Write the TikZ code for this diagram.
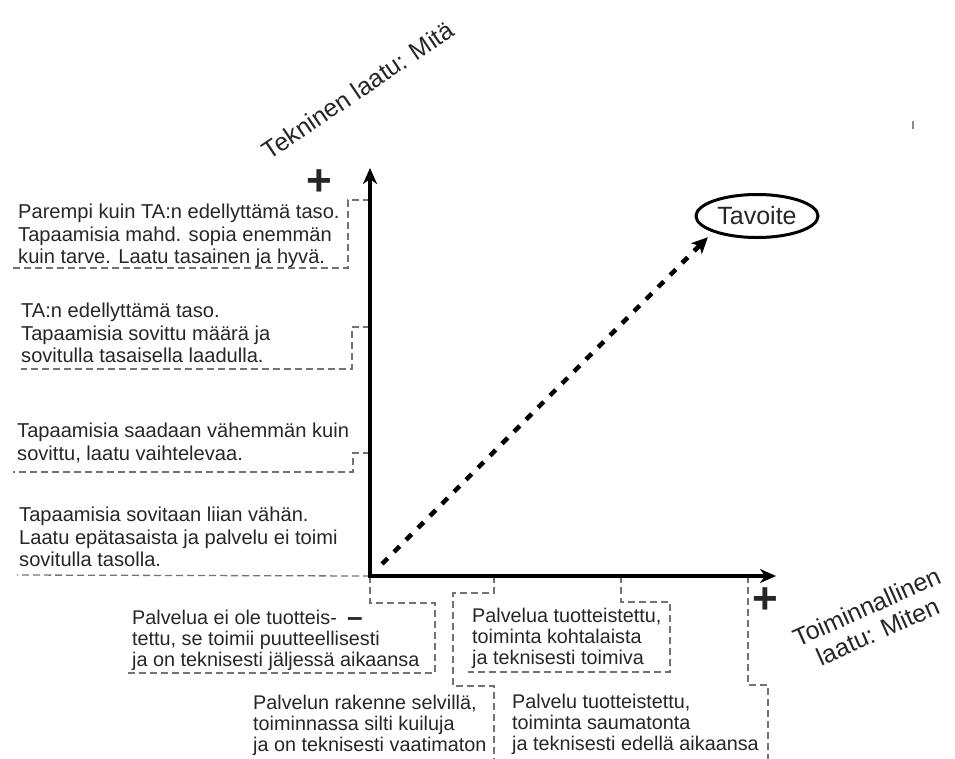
\documentclass[tikz,border=0pt]{standalone}
\usepackage{fontspec}
\setmainfont{Liberation Sans}
\usetikzlibrary{arrows.meta,shapes.geometric}
\begin{document}
\begin{tikzpicture}[x=1pt,y=-1pt,
  every node/.style={text=black!85, inner sep=0pt},
  body/.style={anchor=north west, align=left, font=\fontsize{20.1}{22.5}\selectfont},
  lowbody/.style={anchor=north west, align=left, font=\fontsize{19.8}{21}\selectfont},
  axisline/.style={line width=3.4pt, line join=miter,
    {Stealth[length=16pt,width=14pt,inset=5pt]}-{Stealth[length=16pt,width=14pt,inset=5pt]}},
  lead/.style={draw=black!55, line width=1.3pt, dash pattern=on 7pt off 4pt},
  sign/.style={font=\fontsize{44}{44}\bfseries},
  axislabel/.style={font=\fontsize{25}{27}\selectfont, align=center},
  goal/.style={ellipse, draw=black, line width=3pt, minimum width=122pt,
    minimum height=43pt, font=\fontsize{25}{25}\selectfont},
  route/.style={line width=4.5pt, dash pattern=on 8pt off 9pt,
    -{Stealth[length=16pt,width=15pt,inset=4pt]}, shorten <=17pt, shorten >=7pt}
]
\useasboundingbox (0,0) rectangle (955,758);

% axis points and ticks
\coordinate (O) at (370,576);
\coordinate (ytip) at (370,168);
\coordinate (xtip) at (776,576);
\coordinate (t1) at (370,200);
\coordinate (t2) at (370,327);
\coordinate (t3) at (370,453);
\coordinate (b1) at (494,576);
\coordinate (c1) at (621,576);
\coordinate (d1) at (748,576);

% dashed brackets tying each description to its level on the axis
\draw[lead] (t1) -- (348,200) -- (348,268) -- (12,268);
\draw[lead] (t2) -- (352,327) -- (352,369) -- (21,369);
\draw[lead] (t3) -- (353,453) -- (353,472) -- (13,472);
\draw[lead] (O) -- (17,575);
\draw[lead] (O) -- (370,603) -- (435,603) -- (435,673) -- (128,673);
\draw[lead] (b1) -- (494,593) -- (453,593) -- (453,686) -- (494,686) -- (494,760);
\draw[lead] (c1) -- (621,602) -- (670,602) -- (670,672) -- (468,672);
\draw[lead] (d1) -- (748,685) -- (768,685) -- (768,760);

% axes
\draw[axisline] (ytip) -- (O) -- (xtip);

% axis labels
\node[axislabel, rotate=34] (ylabel) at (358,90) {Tekninen laatu: Mitä};
\node[axislabel, rotate=24] (xlabel) at (872,619) {Toiminnallinen\\laatu: Miten};
\node[sign] (yplus) at (319,183) {+};
\node[sign] (xplus) at (765,601) {+};
\node[font=\fontsize{28}{28}\bfseries] (xminus) at (355,622) {–};

% goal and route towards it
\node[goal] (tav) at (757,216) {Tavoite};
\draw[route] (O) -- (tav.south west);

% descriptions of technical quality
\node[body] (v1) at (18,204) {Parempi kuin TA:n edellyttämä taso.\\Tapaamisia mahd. sopia enemmän\\kuin tarve. Laatu tasainen ja hyvä.};
\node[body] (v2) at (21,303) {TA:n edellyttämä taso.\\Tapaamisia sovittu määrä ja\\sovitulla tasaisella laadulla.};
\node[body] (v3) at (17,423) {Tapaamisia saadaan vähemmän kuin\\sovittu, laatu vaihtelevaa.};
\node[body] (v4) at (19,507) {Tapaamisia sovitaan liian vähän.\\Laatu epätasaista ja palvelu ei toimi\\sovitulla tasolla.};

% descriptions of functional quality
\node[lowbody] (h1) at (132,610) {Palvelua ei ole tuotteis-\\tettu, se toimii puutteellisesti\\ja on teknisesti jäljessä aikaansa};
\node[lowbody] (h2) at (253,695) {Palvelun rakenne selvillä,\\toiminnassa silti kuiluja\\ja on teknisesti vaatimaton};
\node[lowbody] (h3) at (472,608) {Palvelua tuotteistettu,\\toiminta kohtalaista\\ja teknisesti toimiva};
\node[lowbody] (h4) at (512,694) {Palvelu tuotteistettu,\\toiminta saumatonta\\ja teknisesti edellä aikaansa};

% small stray mark
\draw[black!45, line width=2pt] (913,121) -- (913,129);
\end{tikzpicture}
\end{document}
